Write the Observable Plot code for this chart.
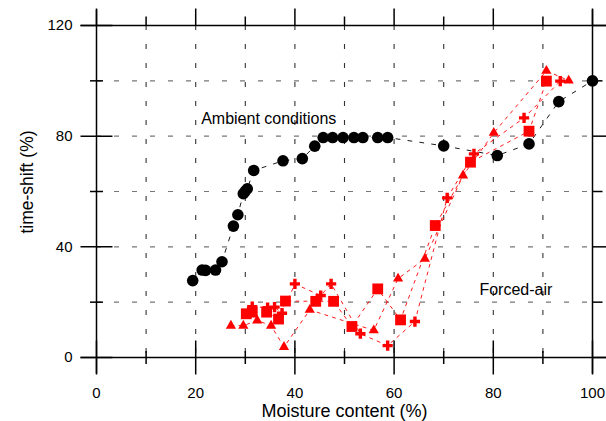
<!DOCTYPE html>
<html><head><meta charset="utf-8">
<script src="https://cdn.jsdelivr.net/npm/d3@7"></script>
<script src="https://cdn.jsdelivr.net/npm/@observablehq/plot@0.6"></script>
<style>body{margin:0;background:#fff} #chart svg{display:block;overflow:visible}</style>
</head><body><div id="chart"></div>
<script>
// Ambient conditions (black circles)
const ambientX = [19.4, 21.3, 22.0, 24.0, 25.3, 27.6, 28.5, 29.6, 30.0, 30.4, 31.7, 37.6, 41.5, 44.0, 45.7, 47.6, 49.7, 51.9, 53.7, 56.7, 58.7, 70.0, 80.8, 87.2, 93.2, 100];
const ambientY = [27.8, 31.6, 31.5, 31.6, 34.6, 47.5, 51.6, 59.2, 60.1, 61.0, 67.6, 71.1, 71.9, 76.4, 79.5, 79.5, 79.5, 79.5, 79.5, 79.5, 79.5, 76.5, 73.0, 77.2, 92.5, 100];
// Forced-air (red) — squares
const squareX = [30.2, 31.4, 34.3, 36.7, 38.1, 44.2, 47.8, 51.5, 56.7, 61.3, 68.3, 75.4, 87.2, 90.7];
const squareY = [15.8, 16.4, 16.4, 13.9, 20.4, 20.3, 20.3, 11.2, 24.8, 13.6, 47.7, 70.6, 81.8, 99.9];
// Forced-air — triangles
const triangleX = [27.1, 29.6, 32.4, 35.2, 37.8, 43.0, 55.9, 60.8, 66.2, 73.9, 80.1, 90.7, 95.2];
const triangleY = [11.5, 11.5, 13.4, 11.5, 3.8, 17.2, 9.8, 28.5, 35.7, 65.8, 81.2, 103.6, 100.1];
// Forced-air — crosses
const crossX = [31.4, 34.5, 35.9, 37.4, 40.0, 45.2, 47.3, 53.2, 58.7, 64.2, 70.7, 76.1, 86.2, 93.5];
const crossY = [18.4, 18.0, 18.2, 16.0, 26.6, 22.4, 26.6, 8.6, 4.3, 13.0, 57.7, 73.6, 86.6, 99.9];

// Axes / ticks
const xDomain = [0, 100];
const yDomain = [0, 120];
const xMajor = [0, 20, 40, 60, 80, 100];
const xMinor = [10, 30, 50, 70, 90];
const yMajor = [0, 40, 80, 120];
const yMinor = [20, 60, 100];
const gridX = [10, 20, 30, 40, 50, 60, 70, 80, 90];
const gridY = [20, 40, 60, 80, 100];
const xTitle = "Moisture content (%)";
const yTitle = "time-shift (%)";
// Annotations
const annText = ["Ambient conditions", "Forced-air"];
const annX = [21.1, 77.2];
const annY = [86.2, 24.3];

const zip = (xs, ys) => xs.map((x, i) => ({x, y: ys[i]}));
const ambient = zip(ambientX, ambientY);
const squares = zip(squareX, squareY);
const triangles = zip(triangleX, triangleY);
const crosses = zip(crossX, crossY);
const ann = annText.map((t, i) => ({t, x: annX[i], y: annY[i]}));

const W = 606, H = 421, ML = 96, MR = 14, MT = 25, MB = 64;
const FW = W - ML - MR, FH = H - MT - MB;
// pixel -> data-unit converters (for tick lengths)
const pxX = p => p * (xDomain[1] - xDomain[0]) / FW;
const pxY = p => p * (yDomain[1] - yDomain[0]) / FH;
const [x0, x1] = xDomain, [y0, y1] = yDomain;

const RED = "#ff0000";
const K = {stroke: "#000", strokeWidth: 1.5};
const redLine = {x: "x", y: "y", stroke: RED, strokeWidth: 0.9, strokeDasharray: "3,5"};

const vSeg = (vals, ya, yb) => Plot.link(vals, {x1: d => d, x2: d => d, y1: ya, y2: yb, ...K});
const hSeg = (vals, xa, xb) => Plot.link(vals, {y1: d => d, y2: d => d, x1: xa, x2: xb, ...K});

const chart = Plot.plot({
  width: W, height: H,
  marginLeft: ML, marginRight: MR, marginTop: MT, marginBottom: MB,
  style: {fontFamily: "'Liberation Sans', Arial, sans-serif"},
  x: {domain: xDomain, axis: null},
  y: {domain: yDomain, axis: null},
  marks: [
    // grid
    Plot.ruleX(gridX, {x: d => d, stroke: "#333", strokeWidth: 1.1, strokeDasharray: "5,14"}),
    Plot.ruleY(gridY, {y: d => d, stroke: "#777", strokeWidth: 1.2, strokeDasharray: "5,13"}),
    // tick labels
    Plot.text(xMajor, {x: d => d, frameAnchor: "bottom", lineAnchor: "middle", textAnchor: "middle", dy: 35.5, fontSize: 15, fill: "#000"}),
    Plot.text(yMajor, {y: d => d, frameAnchor: "left", lineAnchor: "middle", textAnchor: "end", dx: -24, fontSize: 15, fill: "#000"}),
    // axis titles
    Plot.text([xTitle], {frameAnchor: "bottom", textAnchor: "middle", lineAnchor: "middle", dy: 54, fontSize: 18, fill: "#000"}),
    Plot.text([yTitle], {frameAnchor: "left", textAnchor: "middle", lineAnchor: "middle", dx: -69, dy: -9.5, rotate: -90, fontSize: 17.5, fill: "#000"}),
    // ambient series
    Plot.line(ambient, {x: "x", y: "y", stroke: "#000", strokeWidth: 0.9, strokeDasharray: "4,8"}),
    Plot.dot(ambient, {x: "x", y: "y", r: 5.8, fill: "#000", stroke: "none"}),
    // forced-air series
    Plot.line(squares, redLine),
    Plot.line(triangles, redLine),
    Plot.line(crosses, redLine),
    Plot.dot(triangles, {x: "x", y: "y", symbol: "triangle", r: 3.8, fill: RED, stroke: "none"}),
    Plot.dot(squares, {x: "x", y: "y", symbol: "square", r: 6.1, fill: RED, stroke: "none"}),
    Plot.dot(crosses, {x: "x", y: "y", symbol: "cross", r: 4.3, fill: RED, stroke: "none"}),
    // annotations
    Plot.text(ann, {x: "x", y: "y", text: "t", textAnchor: "start", fontSize: 16, fill: "#000"}),
    // frame lines (extending past the corners) and ticks, drawn last
    vSeg(xDomain, y0 - pxY(16), y1 + pxY(16)),
    hSeg(yDomain, x0 - pxX(16), x1 + pxX(MR)),
    vSeg(xMajor, y0 - pxY(17), y0 + pxY(17)),
    vSeg(xMinor, y0 - pxY(6.5), y0 + pxY(6.5)),
    vSeg(xMajor, y1, y1 + pxY(17)),
    vSeg(xMinor, y1, y1 + pxY(9)),
    hSeg(yMajor, x0 - pxX(16), x0 + pxX(16)),
    hSeg(yMinor, x0 - pxX(6.5), x0 + pxX(6.5)),
    hSeg(yMajor, x1, x1 + pxX(MR)),
    hSeg(yMinor, x1, x1 + pxX(10))
  ]
});
document.getElementById("chart").appendChild(chart);
</script>
</body></html>
